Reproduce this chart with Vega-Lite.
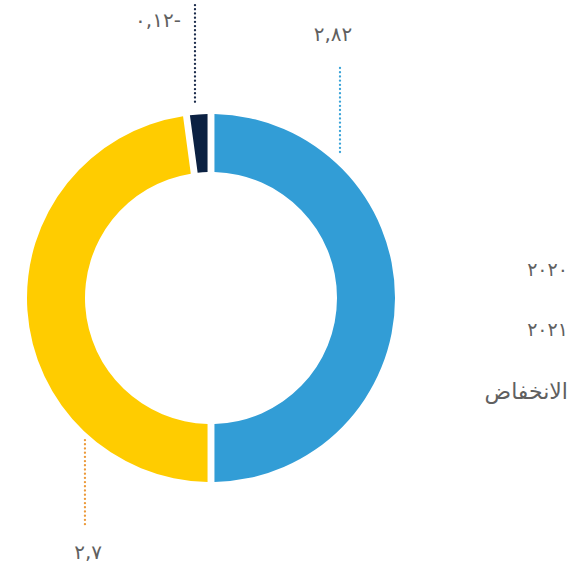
{
  "$schema": "https://vega.github.io/schema/vega-lite/v6.json",
  "width": 422,
  "height": 548,
  "padding": {"left": 0, "top": 24, "right": 150, "bottom": 0},
  "autosize": {"type": "none"},
  "background": "white",
  "config": {"view": {"stroke": null}},
  "datasets": {
    "shares": [
      {"category": "٢٠٢٠", "value": 2.82, "rank": 1},
      {"category": "٢٠٢١", "value": 2.7, "rank": 2},
      {"category": "الانخفاض", "value": 0.12, "rank": 3}
    ],
    "leaders": [
      {"category": "٢٠٢٠", "x": 0.701, "y": 1.25, "y2": 0.777, "lx": 0.663, "ly": 1.429, "label": "٢,٨٢"},
      {"category": "الانخفاض", "x": -0.087, "y": 1.592, "y2": 1.049, "lx": -0.288, "ly": 1.505, "label": "٠,١٢-"},
      {"category": "٢٠٢١", "x": -0.685, "y": -0.772, "y2": -1.234, "lx": -0.668, "ly": -1.386, "label": "٢,٧"}
    ],
    "legendRows": [
      {"category": "٢٠٢٠", "kind": "year", "x": 1.94, "y": 0.152},
      {"category": "٢٠٢١", "kind": "year", "x": 1.94, "y": -0.174},
      {"category": "الانخفاض", "kind": "word", "x": 1.94, "y": -0.51}
    ]
  },
  "layer": [
    {
      "data": {"name": "shares"},
      "mark": {"type": "arc", "outerRadius": 184, "innerRadius": 126, "padAngle": 0.031},
      "encoding": {
        "theta": {"field": "value", "type": "quantitative", "stack": true},
        "order": {"field": "rank", "type": "quantitative"},
        "color": {
          "field": "category",
          "type": "nominal",
          "scale": {"domain": ["٢٠٢٠", "٢٠٢١", "الانخفاض"], "range": ["#329dd6", "#ffcc00", "#0b2142"]},
          "legend": null
        }
      }
    },
    {
      "data": {"name": "leaders"},
      "mark": {"type": "rule", "strokeWidth": 2.3, "strokeDash": [0.1, 4.1], "strokeCap": "round", "clip": false},
      "encoding": {
        "x": {"field": "x", "type": "quantitative", "scale": {"domain": [-1.1467, 1.1467], "nice": false, "zero": false}, "axis": null},
        "y": {"field": "y", "type": "quantitative", "scale": {"domain": [-1.4891, 1.4891], "nice": false, "zero": false}, "axis": null},
        "y2": {"field": "y2"},
        "stroke": {
          "field": "category",
          "type": "nominal",
          "scale": {"domain": ["٢٠٢٠", "٢٠٢١", "الانخفاض"], "range": ["#3aa3d8", "#ec9a3a", "#1a2a4a"]},
          "legend": null
        }
      }
    },
    {
      "data": {"name": "leaders"},
      "mark": {"type": "text", "fontSize": 20, "font": "DejaVu Sans", "color": "#606060", "align": "center", "baseline": "middle", "clip": false},
      "encoding": {
        "x": {"field": "lx", "type": "quantitative", "axis": null},
        "y": {"field": "ly", "type": "quantitative", "axis": null},
        "text": {"field": "label"}
      }
    },
    {
      "data": {"name": "legendRows"},
      "transform": [{"filter": "datum.kind === 'year'"}],
      "mark": {"type": "text", "fontSize": 19, "font": "DejaVu Sans", "color": "#606060", "align": "right", "baseline": "middle", "clip": false},
      "encoding": {
        "x": {"field": "x", "type": "quantitative", "axis": null},
        "y": {"field": "y", "type": "quantitative", "axis": null},
        "text": {"field": "category"}
      }
    },
    {
      "data": {"name": "legendRows"},
      "transform": [{"filter": "datum.kind === 'word'"}],
      "mark": {"type": "text", "fontSize": 22, "font": "DejaVu Sans", "color": "#606060", "align": "right", "baseline": "middle", "clip": false},
      "encoding": {
        "x": {"field": "x", "type": "quantitative", "axis": null},
        "y": {"field": "y", "type": "quantitative", "axis": null},
        "text": {"field": "category"}
      }
    }
  ]
}
